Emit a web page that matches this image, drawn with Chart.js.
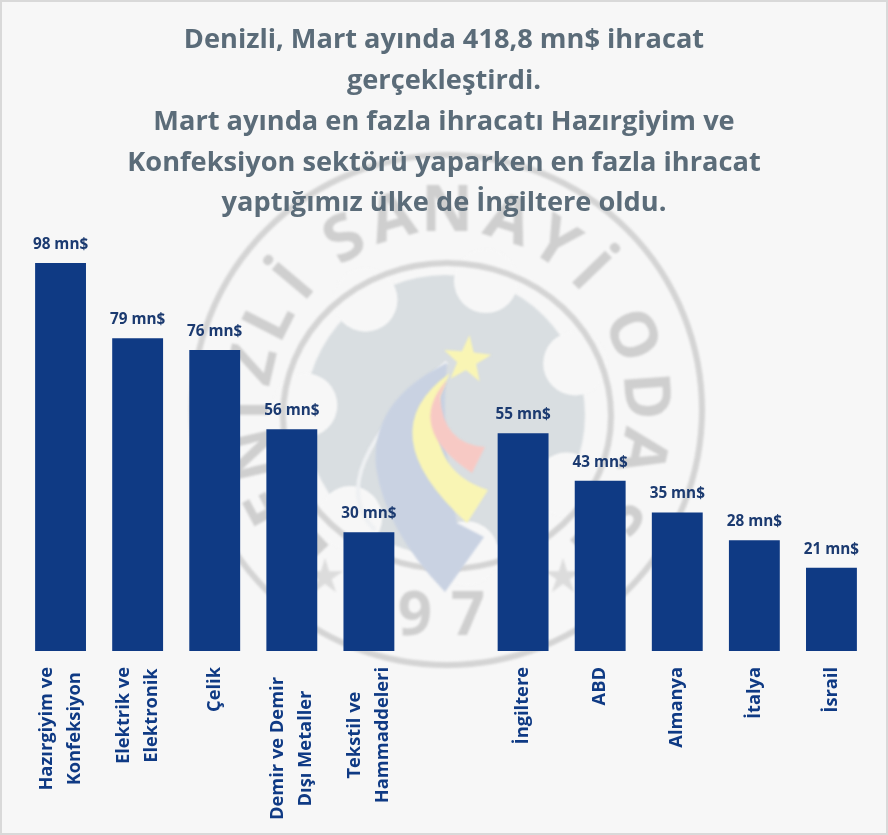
<!DOCTYPE html>
<html>
<head>
<meta charset="utf-8">
<script src="https://cdn.jsdelivr.net/npm/chart.js@4"></script>
<style>
html, body { margin: 0; padding: 0; background: #f7f7f7; }
#wrap { width: 888px; height: 835px; }
</style>
</head>
<body>
<div id="wrap"><canvas id="myChart" width="888" height="835"></canvas></div>
<script>
const titleLines = [
    'Denizli, Mart ayında 418,8 mn$ ihracat',
    'gerçekleştirdi.',
    'Mart ayında en fazla ihracatı Hazırgiyim ve',
    'Konfeksiyon sektörü yaparken en fazla ihracat',
    'yaptığımız ülke de İngiltere oldu.'
];
const categories = [
    ['Hazırgiyim ve', 'Konfeksiyon'],
    ['Elektrik ve', 'Elektronik'],
    'Çelik',
    ['Demir ve Demir', 'Dışı Metaller'],
    ['Tekstil ve', 'Hammaddeleri'],
    '',
    'İngiltere',
    'ABD',
    'Almanya',
    'İtalya',
    'İsrail'
];
const exportValues = [98, 79, 76, 56, 30, null, 55, 43, 35, 28, 21];
const valueSuffix = ' mn$';

const NAVY = '#0f3a84';
const LABEL_NAVY = '#1b3a70';
const FONT = '"Open Sans", Lato, sans-serif';

function poly(c, start, segs) {
    c.beginPath();
    c.moveTo(start[0], start[1]);
    for (const s of segs) {
        if (s.length === 2) c.lineTo(s[0], s[1]);
        else c.quadraticCurveTo(s[0], s[1], s[2], s[3]);
    }
    c.closePath();
    c.fill();
}

// faint logo behind the bars
const watermark = {
    id: 'watermark',
    beforeDraw(chart) {
        const c = chart.ctx;
        const cx = 447, cy = 410;
        c.save();
        c.fillStyle = '#f7f7f7';
        c.fillRect(0, 0, 888, 835);
        c.filter = 'blur(1px)';

        // gear: disc with round notches
        c.fillStyle = '#d9dee1';
        c.beginPath();
        c.arc(445, 415, 140, 0, Math.PI * 2);
        c.fill();
        c.fillStyle = '#f7f7f7';
        for (let i = 0; i < 7; i++) {
            const a = (17 + i * 51.4 - 90) * Math.PI / 180;
            c.beginPath();
            c.arc(445 + 140 * Math.cos(a), 415 + 140 * Math.sin(a), 32, 0, Math.PI * 2);
            c.fill();
        }

        c.strokeStyle = '#d4d4d4';
        c.lineWidth = 6;
        c.beginPath(); c.arc(cx, cy, 255, 0, Math.PI * 2); c.stroke();
        c.beginPath(); c.ellipse(cx, 416, 164, 153, 0, 0, Math.PI * 2); c.stroke();

        // swoosh
        c.strokeStyle = '#eef0f2';
        c.lineWidth = 4;
        c.beginPath();
        c.moveTo(447, 362);
        c.quadraticCurveTo(319, 474, 375, 530);
        c.stroke();
        c.fillStyle = '#c9d2e2';
        poly(c, [447, 363], [[370, 400, 376, 467], [385, 530, 445, 592], [484, 537], [457, 523], [440, 440, 447, 363]]);
        c.fillStyle = '#f9f5b4';
        poly(c, [450, 373], [[367, 432, 467, 523], [488, 490], [425, 470, 440, 395]]);
        c.fillStyle = '#f7c9c4';
        poly(c, [447, 380], [[404, 428, 472, 473], [485, 447], [443, 444, 440, 397]]);
        // star
        c.fillStyle = '#f9f5b4';
        c.beginPath();
        for (let i = 0; i < 10; i++) {
            const r = i % 2 ? 10 : 25;
            const a = i * Math.PI / 5 - Math.PI / 2 + 0.1;
            c.lineTo(467 + r * Math.cos(a), 360 + r * Math.sin(a));
        }
        c.closePath();
        c.fill();

        // ring lettering
        const ringLetters = [['D', -133], ['E', -118], ['N', -103], ['İ', -90], ['Z', -77], ['L', -63], ['İ', -50],
            ['S', -31], ['A', -16], ['N', 0], ['A', 18], ['Y', 33], ['İ', 46],
            ['O', 68], ['D', 86], ['A', 102], ['S', 121], ['I', 135]];
        c.fillStyle = '#cfcfcf';
        c.font = 'bold 64px ' + FONT;
        c.textAlign = 'center';
        c.textBaseline = 'middle';
        for (const [ch, deg] of ringLetters) {
            c.save();
            c.translate(cx, cy);
            c.rotate(deg * Math.PI / 180);
            c.fillText(ch, 0, -197);
            c.restore();
        }
        c.font = 'bold 60px ' + FONT;
        c.fillText('1', 362, 612);
        c.fillText('9', 415, 618);
        c.fillText('7', 468, 618);
        c.fillText('0', 522, 612);

        // little stars either side of the year
        c.fillStyle = '#dcdcdc';
        for (const sx of [325, 563]) {
            c.beginPath();
            for (let i = 0; i < 10; i++) {
                const r = i % 2 ? 7 : 19;
                const a = i * Math.PI / 5 - Math.PI / 2;
                c.lineTo(sx + r * Math.cos(a), 577 + r * Math.sin(a));
            }
            c.closePath();
            c.fill();
        }
        c.restore();

        // grey frame of the slide
        c.strokeStyle = '#d9d9d9';
        c.lineWidth = 2;
        c.strokeRect(1, 1, 886, 833);
    }
};

// value labels above bars + rotated category labels
const barText = {
    id: 'barText',
    afterDatasetsDraw(chart) {
        const c = chart.ctx;
        const meta = chart.getDatasetMeta(0);
        c.save();
        c.textAlign = 'center';
        c.textBaseline = 'alphabetic';
        c.font = 'bold 15.3px ' + FONT;
        c.fillStyle = LABEL_NAVY;
        meta.data.forEach((bar, i) => {
            if (exportValues[i] == null) return;
            c.fillText(exportValues[i] + valueSuffix, bar.x, bar.y - 14);
        });

        c.font = 'bold 18.3px ' + FONT;
        c.fillStyle = NAVY;
        const top = chart.scales.y.bottom + 16;
        categories.forEach((label, i) => {
            const lines = Array.isArray(label) ? label : [label];
            const x = chart.scales.x.getPixelForValue(i);
            const longest = Math.max(...lines.map(l => c.measureText(l).width));
            // this one sits a little lower in the original
            const shift = i === 3 ? 10 : 0;
            lines.forEach((line, n) => {
                c.save();
                c.translate(x + (n - (lines.length - 1) / 2) * 28, top + shift + longest / 2);
                c.rotate(-Math.PI / 2);
                c.textBaseline = 'middle';
                c.fillText(line, 0, 0);
                c.restore();
            });
        });
        c.restore();
    }
};

new Chart(document.getElementById('myChart'), {
    type: 'bar',
    data: {
        labels: categories,
        datasets: [{
            data: exportValues,
            backgroundColor: NAVY,
            barPercentage: 0.66,
            categoryPercentage: 1
        }]
    },
    plugins: [watermark, barText],
    options: {
        responsive: false,
        animation: false,
        layout: { padding: { left: 18, right: 18, top: 20, bottom: 176 } },
        plugins: {
            legend: { display: false },
            tooltip: { enabled: false },
            title: {
                display: true,
                text: titleLines,
                color: '#5b6c79',
                font: { family: FONT, size: 27.2, weight: 'bold', lineHeight: 1.5 },
                padding: { top: 0, bottom: 39 }
            }
        },
        scales: {
            x: { display: true, grid: { display: false }, border: { display: false }, ticks: { display: false } },
            // hidden axis, only keeps the bars 4px right of the centred title
            y: {
                display: true, min: 0, max: 98,
                grid: { display: false }, border: { display: false }, ticks: { display: false },
                afterFit(axis) { axis.width = 4; }
            }
        }
    }
});
</script>
</body>
</html>
